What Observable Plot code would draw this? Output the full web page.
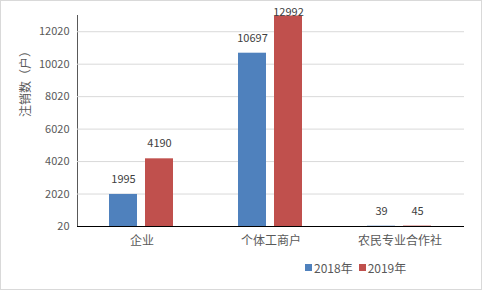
<!DOCTYPE html>
<html><head><meta charset="utf-8">
<script src="https://cdn.jsdelivr.net/npm/d3@7"></script>
<script src="https://cdn.jsdelivr.net/npm/@observablehq/plot@0.6"></script>
<style>
html,body{margin:0;padding:0;background:#fff;}
#chart{position:relative;width:482px;height:290px;overflow:hidden;font-family:"Noto Sans CJK SC","Noto Sans",sans-serif;}
#chart svg{position:absolute;left:0;top:0;}
#border{position:absolute;left:0;top:0;width:482px;height:290px;box-sizing:border-box;border:1px solid #d9d9d9;pointer-events:none;}
#ytitle{position:absolute;left:24px;top:81px;transform:translate(-50%,-50%) rotate(-90deg);font-size:12px;color:#595959;white-space:nowrap;}
#legend{position:absolute;left:305px;top:259px;font-size:12px;color:#595959;display:flex;align-items:center;white-space:nowrap;}
#legend .sw{display:inline-block;width:7px;height:7px;margin-right:2px;}
#legend .item{display:flex;align-items:center;margin-right:6px;}
</style>
</head><body>
<div id="chart"></div>
<script>
const categories = ["企业", "个体工商户", "农民专业合作社"];
const years = ["2018年", "2019年"];
const values2018 = [1995, 10697, 39];
const values2019 = [4190, 12992, 45];
const yTicks = [20, 2020, 4020, 6020, 8020, 10020, 12020];
const yMax = 13020;
const labelCap = 12285; // labels near the top are kept inside the chart, as in the reference
const colors = ["#4f81bd", "#c0504d"];
const yTitle = "注销数（户）";

const data = [];
categories.forEach((c, i) => {
  data.push({category: c, year: years[0], value: values2018[i]});
  data.push({category: c, year: years[1], value: values2019[i]});
});

const plot = Plot.plot({
  width: 482,
  height: 255,
  marginLeft: 76,
  marginRight: 17,
  marginTop: 15,
  marginBottom: 29,
  style: {fontFamily: '"Noto Sans CJK SC","Noto Sans",sans-serif', fontSize: "11px", color: "#595959", background: "transparent"},
  fx: {domain: categories, padding: 0},
  x: {domain: years, paddingInner: 0.216, paddingOuter: 0.86, axis: null},
  y: {domain: [yTicks[0], yMax], ticks: yTicks, tickSize: 0, tickPadding: 8, tickFormat: d => String(d), line: true, label: null},
  color: {domain: years, range: colors},
  marks: [
    Plot.gridY(yTicks.slice(1), {stroke: "#d9d9d9", strokeOpacity: 1}),
    Plot.barY(data, {fx: "category", x: "year", y1: yTicks[0], y2: "value", fill: "year"}),
    Plot.text(data, {fx: "category", x: "year", y: d => Math.min(d.value, labelCap), text: d => String(d.value), dy: -15, fill: "#404040", fontSize: 11}),
    Plot.ruleY([yTicks[0]], {stroke: "#000", strokeWidth: 1.2}),
    Plot.axisFx({anchor: "bottom", tickSize: 0, tickPadding: 10, fontSize: 12, fill: "#595959", label: null})
  ]
});

const chart = document.getElementById("chart");
chart.appendChild(plot);

const t = document.createElement("div");
t.id = "ytitle";
t.textContent = yTitle;
chart.appendChild(t);

const lg = document.createElement("div");
lg.id = "legend";
years.forEach((y, i) => {
  const it = document.createElement("span");
  it.className = "item";
  const sw = document.createElement("span");
  sw.className = "sw";
  sw.style.background = colors[i];
  it.appendChild(sw);
  it.appendChild(document.createTextNode(y));
  lg.appendChild(it);
});
chart.appendChild(lg);

const b = document.createElement("div");
b.id = "border";
chart.appendChild(b);
</script>
</body></html>
